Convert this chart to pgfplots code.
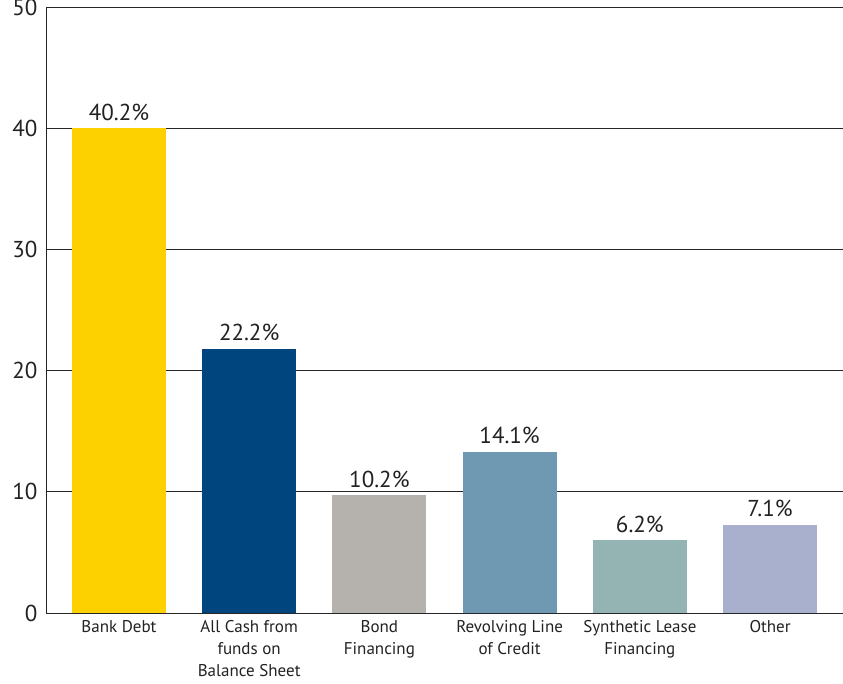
\documentclass[border=0pt]{standalone}
\usepackage{pgfplots}
\pgfplotsset{compat=1.18}
\usepackage{fontspec}
\setmainfont{PT Sans}
\definecolor{cA}{HTML}{FDD000}
\definecolor{cB}{HTML}{00457E}
\definecolor{cC}{HTML}{B5B1AD}
\definecolor{cD}{HTML}{6F99B3}
\definecolor{cE}{HTML}{94B4B4}
\definecolor{cF}{HTML}{A9B0CE}
\definecolor{txt}{HTML}{222222}
\begin{document}
\begin{tikzpicture}
\begin{axis}[
  at={(0pt,0pt)}, anchor=south west,
  scale only axis, width=797pt, height=606pt,
  xmin=-0.56, xmax=5.56, ymin=0, ymax=50,
  ytick={0,10,20,30,40,50},
  xtick={0,1,2,3,4,5},
  xticklabels={Bank Debt,{All Cash from\\funds on\\Balance Sheet},{Bond\\Financing},{Revolving Line\\of Credit},{Synthetic Lease\\Financing},Other},
  x tick label style={align=center, font=\fontsize{17}{21.7}\selectfont, text=txt, anchor=north, yshift=-4pt},
  y tick label style={font=\fontsize{23}{26}\selectfont, text=txt, xshift=-5pt},
  major tick length=0pt,
  axis x line*=bottom, axis y line*=left,
  ymajorgrids, grid style={black!85, line width=0.9pt},
  axis line style={black!85, line width=0.9pt, -},
  ybar, bar width=94pt, bar shift=0pt,
  nodes near coords style={font=\fontsize{23}{26}\selectfont, text=txt, anchor=south, yshift=4pt},
  /pgf/number format/assume math mode=true,
]
\addplot[fill=cA, draw=none, nodes near coords={40.2\%}] coordinates {(0,40.0)};
\addplot[fill=cB, draw=none, nodes near coords={22.2\%}] coordinates {(1,21.8)};
\addplot[fill=cC, draw=none, nodes near coords={10.2\%}] coordinates {(2,9.7)};
\addplot[fill=cD, draw=none, nodes near coords={14.1\%}] coordinates {(3,13.3)};
\addplot[fill=cE, draw=none, nodes near coords={6.2\%}] coordinates {(4,6.0)};
\addplot[fill=cF, draw=none, nodes near coords={7.1\%}] coordinates {(5,7.3)};
\end{axis}
\pgfresetboundingbox
\path (-46pt,-71pt) rectangle (797pt,613pt);
\end{tikzpicture}
\end{document}
